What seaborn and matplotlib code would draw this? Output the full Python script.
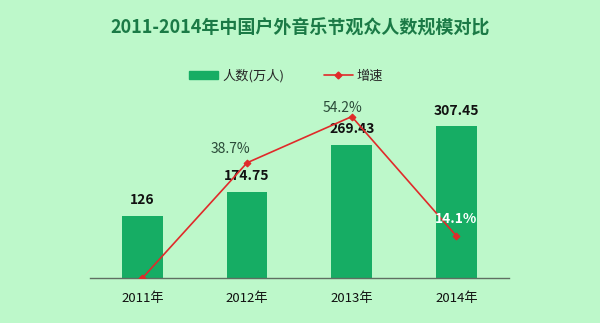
import matplotlib
matplotlib.use("Agg")
import matplotlib.pyplot as plt
import seaborn as sns
import pandas as pd
import numpy as np
from matplotlib.lines import Line2D
from matplotlib.patches import Patch

years = ["2011年", "2012年", "2013年", "2014年"]
audience = [126, 174.75, 269.43, 307.45]
audience_labels = ["126", "174.75", "269.43", "307.45"]
growth = [0, 38.7, 54.2, 14.1]
growth_labels = ["", "38.7%", "54.2%", "14.1%"]

sns.set_style("white")
plt.rcParams['font.family'] = ['Noto Sans CJK SC', 'DejaVu Sans']

BG = "#BDF8CA"
BAR = "#16AD64"
RED = "#E02A2A"

fig = plt.figure(figsize=(6.0, 3.23), dpi=100, facecolor=BG)
ax = fig.add_axes([0.15, 0.139, 0.698, 0.675])
ax.set_facecolor("none")

df = pd.DataFrame({"year": years, "audience": audience})
sns.barplot(data=df, x="year", y="audience", color=BAR, width=0.39, ax=ax,
            saturation=1, linewidth=0, edgecolor=BAR)
ax.set_xlim(-0.5, 3.5)
H = 0.675 * 323
ax.set_ylim(0, H / 0.495)

for i, (v, lab) in enumerate(zip(audience, audience_labels)):
    ax.annotate(lab, (i, v), xytext=(0, 6), textcoords="offset points",
                ha="center", va="bottom", fontsize=10, fontweight="bold", color="#111111")

for s in ["top", "right", "left"]:
    ax.spines[s].set_visible(False)
ax.spines["bottom"].set_color("#5f6f62")
ax.spines["bottom"].set_linewidth(1.0)
ax.set_yticks([])
ax.set_xlabel("")
ax.set_ylabel("")
ax.set_xticks(range(4))
ax.set_xticklabels(years, fontsize=9.5, color="#111111")
ax.tick_params(axis="x", length=0, pad=10)
ax.set_xticks(np.arange(-0.5, 4.0, 1.0), minor=True)
ax.tick_params(axis="x", which="minor", direction="in", length=4, color="#5f6f62")

ax2 = ax.twinx()
ax2.set_facecolor("none")
gdf = pd.DataFrame({"x": np.arange(4), "g": growth})
sns.lineplot(data=gdf, x="x", y="g", ax=ax2, color=RED, linewidth=1.2,
             marker="D", markersize=3.5, markeredgecolor=RED, markerfacecolor=RED)
ax2.set_ylim(0, H / 2.98)
ax2.set_xlim(-0.5, 3.5)
ax2.set_yticks([])
ax2.set_ylabel("")
ax2.set_xlabel("")
for s in ["top", "right", "left", "bottom"]:
    ax2.spines[s].set_visible(False)

offsets = [(0, 0), (-12, 5), (-7, 1), (0, 7)]
for i, (g, lab) in enumerate(zip(growth, growth_labels)):
    if not lab:
        continue
    if i == 3:
        ax2.annotate(lab, (i, g), xytext=offsets[i], textcoords="offset points",
                     ha="center", va="bottom", fontsize=10, fontweight="bold", color="white")
    else:
        ax2.annotate(lab, (i, g), xytext=offsets[i], textcoords="offset points",
                     ha="center", va="bottom", fontsize=10, color="#2a4a38")

handles = [Patch(facecolor=BAR, edgecolor=BAR),
           Line2D([0], [0], color=RED, lw=1.2, marker="D", markersize=3.5)]
fig.legend(handles, ["人数(万人)", "增速"], loc="center", bbox_to_anchor=(0.477, 0.765),
           ncol=2, frameon=False, fontsize=9.5, handlelength=2.2, handleheight=0.6,
           columnspacing=3.0, handletextpad=0.3)

fig.text(0.5, 0.913, "2011-2014年中国户外音乐节观众人数规模对比", ha="center", va="center",
         fontsize=13, fontweight="bold", color="#1B7A46")

fig.savefig("out.png", dpi=100, facecolor=BG)
